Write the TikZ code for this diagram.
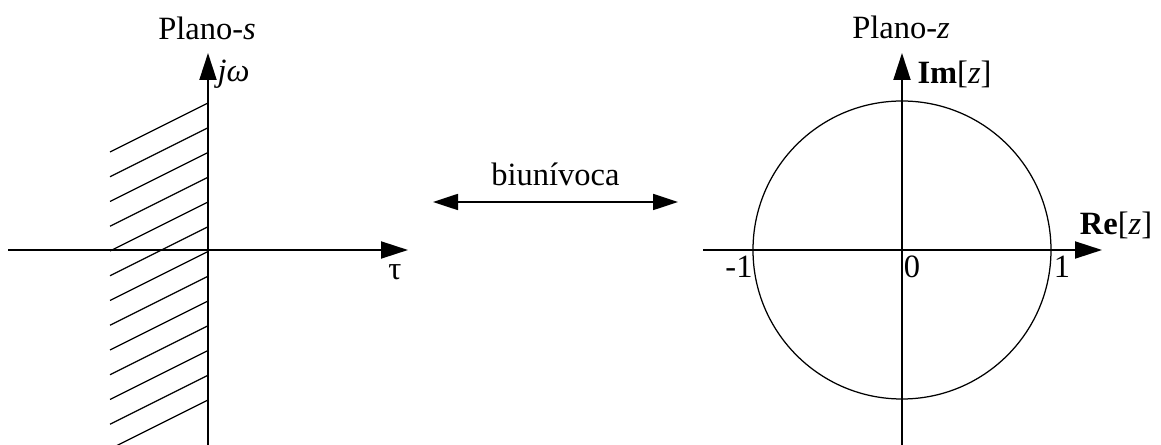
\documentclass[tikz,border=0pt]{standalone}
\usepackage{fontspec}
\setmainfont{Liberation Serif}
\usetikzlibrary{arrows.meta}

\begin{document}
\begin{tikzpicture}[
  x=0.4pt, y=-0.4pt,
  font=\fontsize{13}{15}\selectfont,
  axis/.style = {line width=0.8pt, -{Triangle[length=10.8pt,width=6.8pt]}},
  both/.style = {line width=0.7pt, {Triangle[length=10pt,width=6.4pt]}-{Triangle[length=10pt,width=6.4pt]}},
  hatch/.style = {line width=0.5pt},
  lbl/.style = {inner sep=0pt}
]
\useasboundingbox (0,0) rectangle (1161,445);

% s-plane
\coordinate (sO) at (208,250);
\coordinate (sB) at (208,445);
\coordinate (sT) at (208,53);
\coordinate (sL) at (8,250);
\coordinate (sR) at (408,250);
\foreach \k in {0,...,12}
  \draw[hatch] (110,{152+24.75*\k}) -- (208,{103+24.75*\k});
\draw[axis] (sL) -- (sR);
\draw[axis] (sB) -- (sT);
\node[lbl] (splane) at (207,28) {Plano-\textit{s}};
\node[lbl, anchor=west] (jw) at (217,74) {\textit{j}\textit{ω}};
\node[lbl] (tau) at (395,272) {τ};

% mapping arrow
\coordinate (mL) at (433,202);
\coordinate (mR) at (678,202);
\draw[both] (mL) -- node[above=6pt, lbl] (map) {biunívoca} (mR);

% z-plane
\coordinate (zO) at (902,250);
\coordinate (zB) at (902,445);
\coordinate (zT) at (902,53);
\coordinate (zL) at (703,250);
\coordinate (zR) at (1102,250);
\draw[hatch] (zO) circle[radius=59.6pt];
\draw[axis] (zL) -- (zR);
\draw[axis] (zB) -- (zT);
\node[lbl] (zplane) at (901,27) {Plano-\textit{z}};
\node[lbl, anchor=west] (im) at (917,74) {\textbf{Im}[\textit{z}]};
\node[lbl] (re) at (1116,225) {\textbf{Re}[\textit{z}]};
\node[lbl] (m1) at (739,267) {-1};
\node[lbl] (n0) at (912,267) {0};
\node[lbl] (p1) at (1062,267) {1};
\end{tikzpicture}
\end{document}
